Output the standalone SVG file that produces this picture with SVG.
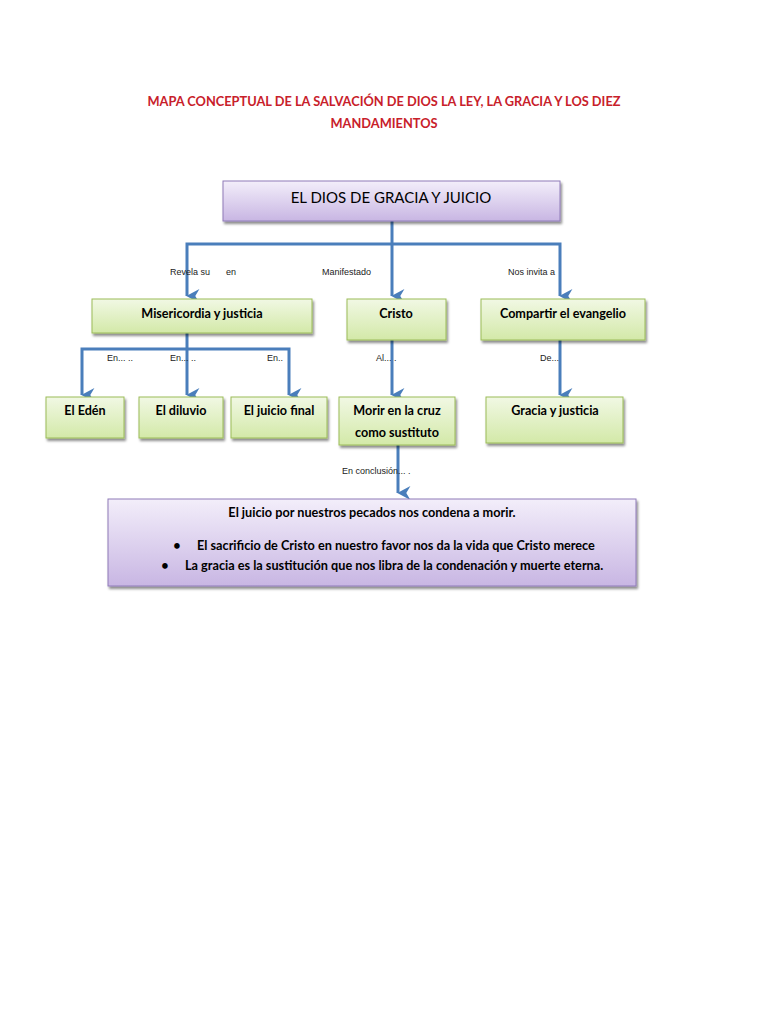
<svg xmlns="http://www.w3.org/2000/svg" width="768" height="1024" viewBox="0 0 768 1024">
<defs>
<linearGradient id="gP" x1="0" y1="0" x2="0" y2="1"><stop offset="0" stop-color="#f3eefa"/><stop offset="1" stop-color="#c8b6e3"/></linearGradient>
<linearGradient id="gG" x1="0" y1="0" x2="0" y2="1"><stop offset="0" stop-color="#f1f8e4"/><stop offset="1" stop-color="#d3e9a8"/></linearGradient>
<filter id="sh" x="-10%" y="-10%" width="130%" height="140%"><feDropShadow dx="1.5" dy="2.5" stdDeviation="1.2" flood-color="#000" flood-opacity="0.45"/></filter>
<marker id="ar" viewBox="0 0 10 10" refX="5" refY="9.5" markerWidth="4.6" markerHeight="4.6" orient="auto-start-reverse" markerUnits="strokeWidth"><path d="M0,0.5 L5,10 L10,0.5 L5,3.5 Z" fill="#4a7ebb"/></marker>
</defs>
<style>
.p{fill:url(#gP);stroke:#8f7bb8;stroke-width:1;filter:url(#sh)}
.g{fill:url(#gG);stroke:#9bbb59;stroke-width:1;filter:url(#sh)}
.c{fill:none;stroke:#4a7ebb;stroke-width:3}
.t{font-family:Lato,"Liberation Sans",sans-serif;fill:#000;text-anchor:middle;font-weight:bold}
.b{font-size:12.6px}
.k{font-size:12.7px}
.l{font-family:"Liberation Sans",Arial,sans-serif;font-size:9px;fill:#222}
</style>
<rect width="768" height="1024" fill="#fff"/>
<g id="title">
<text class="t" x="384" y="106" font-size="12.8" style="fill:#c8202a">MAPA CONCEPTUAL DE LA SALVACIÓN DE DIOS LA LEY, LA GRACIA Y LOS DIEZ</text>
<text class="t" x="384" y="128" font-size="12.8" style="fill:#c8202a">MANDAMIENTOS</text>
</g>
<g id="connectors">
<path class="c" d="M392,221 V244"/>
<path class="c" d="M187,296 V244 H560 V296" marker-start="url(#ar)" marker-end="url(#ar)"/>
<path class="c" d="M392,244 V296" marker-end="url(#ar)"/>
<path class="c" d="M187,333 V349"/>
<path class="c" d="M82,395 V349 H289 V395" marker-start="url(#ar)" marker-end="url(#ar)"/>
<path class="c" d="M187,349 V395" marker-end="url(#ar)"/>
<path class="c" d="M392,340 V395" marker-end="url(#ar)"/>
<path class="c" d="M560,340 V395" marker-end="url(#ar)"/>
<path class="c" d="M398,445 V493" marker-end="url(#ar)"/>
<text class="l" x="170" y="275">Revela su</text>
<text class="l" x="226" y="275">en</text>
<text class="l" x="322" y="275">Manifestado</text>
<text class="l" x="508" y="275">Nos invita a</text>
<text class="l" x="107" y="361">En... ..</text>
<text class="l" x="170" y="361">En... ..</text>
<text class="l" x="267" y="361">En..</text>
<text class="l" x="376" y="361">Al... .</text>
<text class="l" x="540" y="361">De...</text>
<text class="l" x="342" y="474">En conclusión... .</text>
</g>
<g id="n-dios"><rect class="p" x="223" y="181" width="337" height="40"/><text class="t" x="391" y="203" font-size="15" style="font-weight:normal">EL DIOS DE GRACIA Y JUICIO</text></g>
<g id="n-miser"><rect class="g" x="92" y="299" width="220" height="34"/><text class="t b" x="202" y="318">Misericordia y justicia</text></g>
<g id="n-cristo"><rect class="g" x="347" y="299" width="99" height="41"/><text class="t b" x="396" y="318">Cristo</text></g>
<g id="n-compartir"><rect class="g" x="481" y="299" width="164" height="41"/><text class="t b" x="563" y="318">Compartir el evangelio</text></g>
<g id="n-eden"><rect class="g" x="46" y="397" width="78" height="41"/><text class="t b" x="85" y="415">El Edén</text></g>
<g id="n-diluvio"><rect class="g" x="139" y="397" width="84" height="41"/><text class="t b" x="181" y="415">El diluvio</text></g>
<g id="n-juicio"><rect class="g" x="231" y="397" width="96" height="41"/><text class="t b" x="279" y="415">El juicio final</text></g>
<g id="n-morir"><rect class="g" x="339" y="397" width="116" height="48"/><text class="t b" x="397" y="415">Morir en la cruz</text><text class="t b" x="397" y="437">como sustituto</text></g>
<g id="n-gracia"><rect class="g" x="486" y="397" width="137" height="46"/><text class="t b" x="555" y="415">Gracia y justicia</text></g>
<g id="n-conclusion"><rect class="p" x="108" y="499" width="528" height="87"/>
<text class="t k" x="372" y="517">El juicio por nuestros pecados nos condena a morir.</text>
<text class="t k" x="177" y="550">•</text><text class="t k" x="197" y="550" style="text-anchor:start">El sacrificio de Cristo en nuestro favor nos da la vida que Cristo merece</text>
<text class="t k" x="165" y="570">•</text><text class="t k" x="185" y="570" style="text-anchor:start">La gracia es la sustitución que nos libra de la condenación y muerte eterna.</text>
</g>
</svg>
